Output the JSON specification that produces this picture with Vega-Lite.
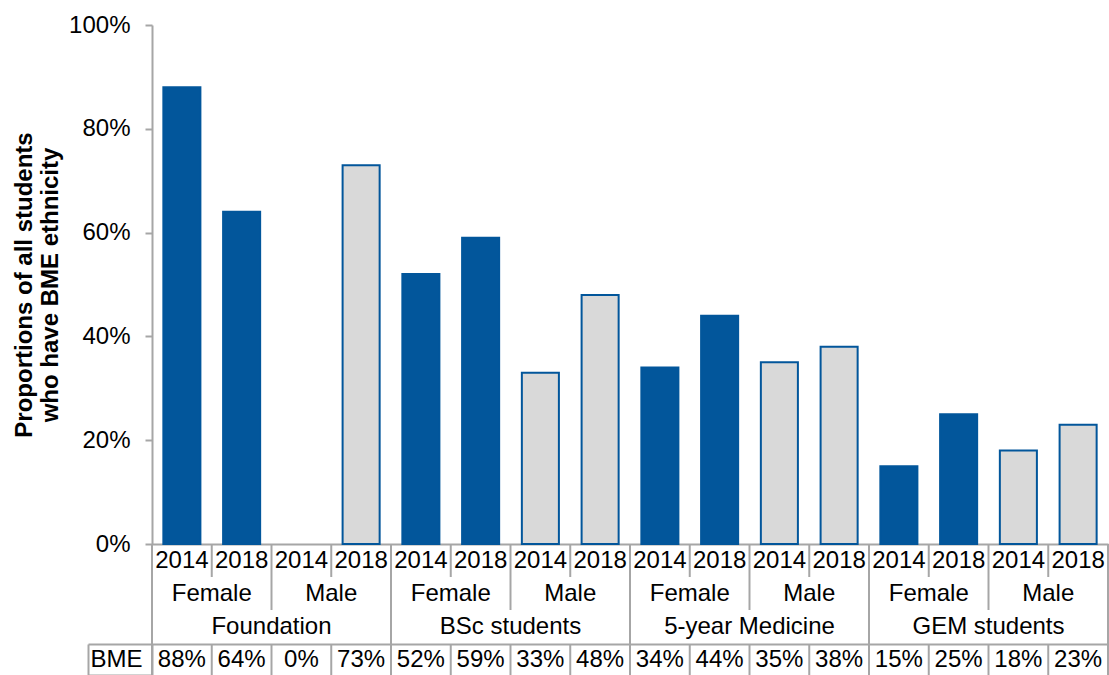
{
  "$schema": "https://vega.github.io/schema/vega-lite/v6.json",
  "padding": {"left": 12, "top": 13, "right": 0, "bottom": 0},
  "background": "white",
  "bounds": "flush",
  "spacing": 0,
  "config": {
    "view": {"stroke": null},
    "font": "Liberation Sans",
    "text": {"font": "Liberation Sans", "fontSize": 24, "color": "black"},
    "rule": {"color": "#A6A6A6", "strokeWidth": 2}
  },
  "data": {"name": "d"},
  "datasets": {
    "d": [
      {"key": "Foundation|Female|2014", "prog": "Foundation", "gender": "Female", "year": "2014", "value": 0.88},
      {"key": "Foundation|Female|2018", "prog": "Foundation", "gender": "Female", "year": "2018", "value": 0.64},
      {"key": "Foundation|Male|2014", "prog": "Foundation", "gender": "Male", "year": "2014", "value": 0.0},
      {"key": "Foundation|Male|2018", "prog": "Foundation", "gender": "Male", "year": "2018", "value": 0.73},
      {"key": "BSc students|Female|2014", "prog": "BSc students", "gender": "Female", "year": "2014", "value": 0.52},
      {"key": "BSc students|Female|2018", "prog": "BSc students", "gender": "Female", "year": "2018", "value": 0.59},
      {"key": "BSc students|Male|2014", "prog": "BSc students", "gender": "Male", "year": "2014", "value": 0.33},
      {"key": "BSc students|Male|2018", "prog": "BSc students", "gender": "Male", "year": "2018", "value": 0.48},
      {"key": "5-year Medicine|Female|2014", "prog": "5-year Medicine", "gender": "Female", "year": "2014", "value": 0.34},
      {"key": "5-year Medicine|Female|2018", "prog": "5-year Medicine", "gender": "Female", "year": "2018", "value": 0.44},
      {"key": "5-year Medicine|Male|2014", "prog": "5-year Medicine", "gender": "Male", "year": "2014", "value": 0.35},
      {"key": "5-year Medicine|Male|2018", "prog": "5-year Medicine", "gender": "Male", "year": "2018", "value": 0.38},
      {"key": "GEM students|Female|2014", "prog": "GEM students", "gender": "Female", "year": "2014", "value": 0.15},
      {"key": "GEM students|Female|2018", "prog": "GEM students", "gender": "Female", "year": "2018", "value": 0.25},
      {"key": "GEM students|Male|2014", "prog": "GEM students", "gender": "Male", "year": "2014", "value": 0.18},
      {"key": "GEM students|Male|2018", "prog": "GEM students", "gender": "Male", "year": "2018", "value": 0.23}
    ]
  },
  "resolve": {"scale": {"x": "shared", "y": "independent"}},
  "vconcat": [
    {
      "width": 956,
      "height": 519,
      "mark": {"type": "bar", "width": {"band": 0.62}},
      "encoding": {
        "x": {"field": "key", "type": "nominal", "sort": null, "scale": {"paddingInner": 0, "paddingOuter": 0},
              "axis": {"labels": false, "ticks": false, "title": null, "domain": true, "domainColor": "#A6A6A6", "domainWidth": 2}},
        "y": {"field": "value", "type": "quantitative", "scale": {"domain": [0, 1]},
              "axis": {"format": ".0%", "values": [0, 0.2, 0.4, 0.6, 0.8, 1], "grid": false,
                       "labelFontSize": 24, "labelColor": "black", "labelFont": "Liberation Sans", "labelPadding": 15,
                       "tickSize": 7, "tickColor": "#A6A6A6", "tickWidth": 2,
                       "domainColor": "#A6A6A6", "domainWidth": 2,
                       "title": ["Proportions of all students", "who have BME ethnicity"],
                       "titleFontSize": 24, "titleFontWeight": "bold", "titleColor": "black", "titleFont": "Liberation Sans",
                       "titlePadding": 6, "titleLineHeight": 26}},
        "fill": {"field": "gender", "type": "nominal", "scale": {"domain": ["Female", "Male"], "range": ["#02569B", "#D9D9D9"]}, "legend": null},
        "stroke": {"value": "#02569B"},
        "strokeWidth": {"condition": {"test": "datum.value > 0", "value": 2}, "value": 0}
      }
    },
    {
      "width": 956,
      "height": 33,
      "layer": [
        {
          "mark": {"type": "text"},
          "encoding": {
            "x": {"field": "key", "type": "nominal", "sort": null, "scale": {"paddingInner": 0, "paddingOuter": 0}, "axis": null},
            "text": {"field": "year", "type": "nominal"}
          }
        },
        {
          "mark": {"type": "rule"},
          "encoding": {
            "x": {"field": "key", "type": "nominal", "sort": null, "bandPosition": 0, "axis": null}
          }
        },
        {
          "transform": [{"filter": "datum.key === 'GEM students|Male|2018'"}],
          "mark": {"type": "rule"},
          "encoding": {
            "x": {"field": "key", "type": "nominal", "sort": null, "bandPosition": 1, "axis": null}
          }
        }
      ]
    },
    {
      "width": 956,
      "height": 33,
      "layer": [
        {
          "transform": [{"filter": "datum.year === '2014'"}],
          "mark": {"type": "text"},
          "encoding": {
            "x": {"field": "key", "type": "nominal", "sort": null, "bandPosition": 1, "axis": null},
            "text": {"field": "gender", "type": "nominal"}
          }
        },
        {
          "transform": [{"filter": "datum.year === '2014'"}],
          "mark": {"type": "rule"},
          "encoding": {
            "x": {"field": "key", "type": "nominal", "sort": null, "bandPosition": 0, "axis": null}
          }
        },
        {
          "transform": [{"filter": "datum.key === 'GEM students|Male|2018'"}],
          "mark": {"type": "rule"},
          "encoding": {
            "x": {"field": "key", "type": "nominal", "sort": null, "bandPosition": 1, "axis": null}
          }
        }
      ]
    },
    {
      "width": 956,
      "height": 34,
      "layer": [
        {
          "transform": [{"filter": "datum.gender === 'Female' && datum.year === '2018'"}],
          "mark": {"type": "text"},
          "encoding": {
            "x": {"field": "key", "type": "nominal", "sort": null, "bandPosition": 1,
                  "axis": {"orient": "bottom", "labels": false, "ticks": false, "title": null, "domain": true, "domainColor": "#A6A6A6", "domainWidth": 2}},
            "text": {"field": "prog", "type": "nominal"}
          }
        },
        {
          "transform": [{"filter": "datum.gender === 'Female' && datum.year === '2014'"}],
          "mark": {"type": "rule"},
          "encoding": {
            "x": {"field": "key", "type": "nominal", "sort": null, "bandPosition": 0,
                  "axis": {"orient": "bottom", "labels": false, "ticks": false, "title": null, "domain": true, "domainColor": "#A6A6A6", "domainWidth": 2}}
          }
        },
        {
          "transform": [{"filter": "datum.key === 'GEM students|Male|2018'"}],
          "mark": {"type": "rule"},
          "encoding": {
            "x": {"field": "key", "type": "nominal", "sort": null, "bandPosition": 1,
                  "axis": {"orient": "bottom", "labels": false, "ticks": false, "title": null, "domain": true, "domainColor": "#A6A6A6", "domainWidth": 2}}
          }
        }
      ]
    },
    {
      "width": 956,
      "height": 31,
      "resolve": {"scale": {"y": "independent"}, "axis": {"y": "independent"}},
      "layer": [
        {
          "mark": {"type": "text"},
          "encoding": {
            "x": {"field": "key", "type": "nominal", "sort": null, "axis": null},
            "y": {"datum": "BME", "type": "nominal", "scale": {"paddingInner": 0, "paddingOuter": 0},
                  "axis": {"orient": "left", "tickBand": "extent", "tickSize": 64, "labelPadding": -54,
                           "labelFontSize": 24, "labelColor": "black", "labelFont": "Liberation Sans",
                           "domain": true, "domainColor": "#A6A6A6", "domainWidth": 2,
                           "tickColor": "#A6A6A6", "tickWidth": 2, "title": null}},
            "text": {"field": "value", "type": "quantitative", "format": ".0%"}
          }
        },
        {
          "mark": {"type": "rule"},
          "encoding": {
            "x": {"field": "key", "type": "nominal", "sort": null, "bandPosition": 0, "axis": null}
          }
        },
        {
          "transform": [{"filter": "datum.key === 'GEM students|Male|2018'"}],
          "mark": {"type": "rule"},
          "encoding": {
            "x": {"field": "key", "type": "nominal", "sort": null, "bandPosition": 1, "axis": null}
          }
        },
        {
          "transform": [{"filter": "datum.key === 'Foundation|Female|2014'"}],
          "mark": {"type": "text", "opacity": 0},
          "encoding": {
            "x": {"field": "key", "type": "nominal", "sort": null, "axis": null},
            "y": {"datum": "BME", "type": "nominal", "scale": {"paddingInner": 0, "paddingOuter": 0},
                  "axis": {"orient": "left", "offset": 64, "labels": false, "ticks": false,
                           "domain": true, "domainColor": "#A6A6A6", "domainWidth": 2, "title": null}},
            "text": {"value": ""}
          }
        }
      ]
    }
  ]
}
